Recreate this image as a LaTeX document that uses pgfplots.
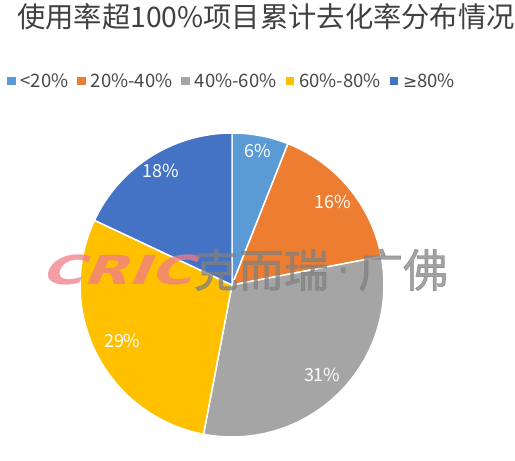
\documentclass[border=0pt]{standalone}
\usepackage{fontspec}
\setmainfont{Noto Sans CJK SC}
\newfontfamily\cricfont[FakeSlant=0.3]{DejaVu Sans}
\newfontfamily\symfont{DejaVu Sans}
\newfontfamily\wmfont[FakeBold=1.5]{Noto Sans CJK SC}
\usepackage{pgfplots}
\usepgfplotslibrary{polar}
\pgfplotsset{compat=1.18}

\definecolor{c1}{HTML}{5B9BD5}
\definecolor{c2}{HTML}{ED7D31}
\definecolor{c3}{HTML}{A5A5A5}
\definecolor{c4}{HTML}{FFC000}
\definecolor{c5}{HTML}{4472C4}
\definecolor{titlegray}{HTML}{404040}
\definecolor{legendgray}{HTML}{474747}
\definecolor{cricpink}{HTML}{F07C8A}

\begin{document}
\begin{tikzpicture}
\begin{polaraxis}[
  name=pie, hide axis, scale only axis, clip=false,
  width=304bp, height=304bp, ymin=0, ymax=1,
  title={使用率超100\%项目累计去化率分布情况},
  title style={at={(0.5,1)}, anchor=center, xshift=34bp, yshift=102bp,
    font=\fontsize{28.3bp}{30bp}\selectfont, text=titlegray},
  legend columns=-1,
  legend style={at={(0.5,1)}, anchor=center, yshift=52bp, draw=none,
    font=\fontsize{18.5bp}{20bp}\selectfont, text=legendgray,
    /tikz/every odd column/.append style={column sep=3bp},
    /tikz/every even column/.append style={column sep=7bp}},
  legend image code/.code={\fill[#1, draw=none] (0bp,-4.5bp) rectangle (8.5bp,4bp);},
  samples=40,
]
% slices, clockwise from the top; values in percent
\addplot[fill=c1, draw=white, line width=1.5pt, domain={90-3.6*6}:{90}] {1} -- (axis cs:0,0) -- cycle;
\addplot[fill=c2, draw=white, line width=1.5pt, domain={90-3.6*(6+16)}:{90-3.6*6}] {1} -- (axis cs:0,0) -- cycle;
\addplot[fill=c3, draw=white, line width=1.5pt, domain={90-3.6*(6+16+31)}:{90-3.6*(6+16)}] {1} -- (axis cs:0,0) -- cycle;
\addplot[fill=c4, draw=white, line width=1.5pt, domain={90-3.6*(6+16+31+29)}:{90-3.6*(6+16+31)}] {1} -- (axis cs:0,0) -- cycle;
\addplot[fill=c5, draw=white, line width=1.5pt, domain={90-3.6*(6+16+31+29+18)}:{90-3.6*(6+16+31+29)}] {1} -- (axis cs:0,0) -- cycle;
\legend{<20\%, 20\%-40\%, 40\%-60\%, 60\%-80\%, {\symfont\fontsize{17bp}{20bp}\selectfont ≥}80\%}

\begin{scope}[every node/.style={text=white, font=\fontsize{18bp}{20bp}\selectfont}]
\node at (axis cs:79.2,0.9) {6\%};
\node at (axis cs:39.6,0.86) {16\%};
\node at (axis cs:-45,0.84) {31\%};
\node at (axis cs:-153,0.81) {29\%};
\node at (axis cs:-238,0.885) {18\%};
\end{scope}
\end{polaraxis}

% watermark
\node[text=cricpink, opacity=0.75, xscale=1.45, font=\cricfont\bfseries\fontsize{40bp}{40bp}\selectfont]
  at ([shift={(-116bp,15bp)}]pie.center) {CRIC};
\node[text=gray, opacity=0.72, font=\wmfont\fontsize{45bp}{45bp}\selectfont]
  at ([shift={(89bp,15bp)}]pie.center) {克而瑞{\symfont\,·\,}广佛};

\pgfresetboundingbox
\path[use as bounding box] ([shift={(-232bp,-176bp)}]pie.center) rectangle ([shift={(283bp,285bp)}]pie.center);
\end{tikzpicture}
\end{document}
